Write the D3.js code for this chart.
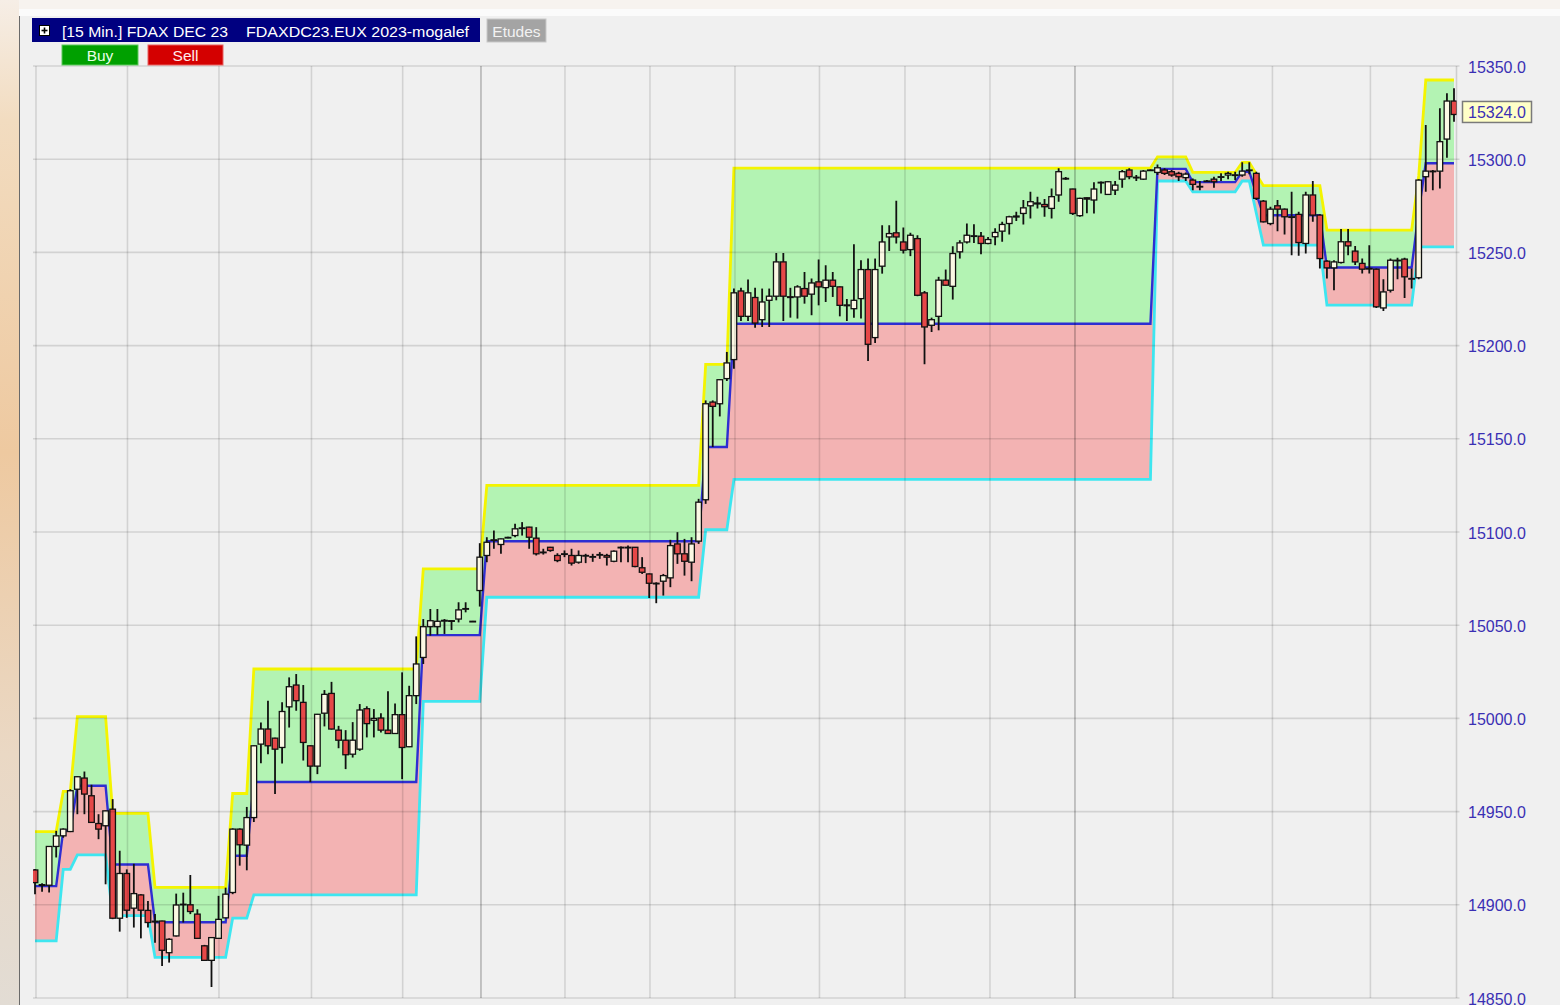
<!DOCTYPE html>
<html><head><meta charset="utf-8">
<script src="https://cdn.jsdelivr.net/npm/d3@7"></script>
<style>html,body{margin:0;padding:0;background:#f0f0f0;overflow:hidden}</style>
</head><body><svg id="c" width="1560" height="1005"></svg>
<script>
// ---------------- DATA ----------------
const barOpen = [14918.7,14910.8,14910.5,14931.3,14937.0,14939.3,14962.0,14968.0,14958.5,14943.6,
14942.4,14951.3,14892.8,14916.8,14898.2,14905.3,14897.0,14891.2,14891.3,14874.3,
14883.3,14900.0,14900.0,14895.0,14878.0,14870.2,14882.0,14893.0,14906.6,14940.6,
14932.0,14946.8,14986.2,14994.3,14989.4,14984.4,15006.2,15017.9,15008.6,14985.3,
14974.4,15002.8,15013.4,14993.7,14988.3,14980.8,14983.5,15005.2,14999.0,15000.2,
14993.7,14991.9,15002.0,14984.8,15012.2,15032.7,15049.2,15049.2,15052.2,15052.4,
15053.3,15058.7,15052.1,15068.6,15087.4,15095.6,15093.3,15096.9,15098.1,15102.0,
15102.6,15096.7,15089.0,15091.8,15087.4,15088.1,15087.4,15083.8,15087.2,15086.6,
15087.7,15087.4,15084.3,15091.6,15091.6,15091.8,15080.8,15077.5,15072.3,15073.6,
15075.4,15093.6,15088.3,15083.8,15095.1,15117.3,15169.7,15168.8,15182.3,15192.5,
15229.3,15215.7,15225.8,15213.9,15224.3,15226.5,15244.9,15226.2,15226.1,15230.6,
15227.6,15234.2,15231.1,15235.1,15231.5,15221.8,15219.8,15225.2,15240.8,15204.3,
15242.6,15258.3,15260.5,15255.6,15251.5,15257.4,15228.3,15210.9,15215.7,15235.1,
15231.8,15250.3,15255.6,15258.7,15258.7,15254.8,15258.4,15261.4,15265.5,15269.0,
15270.9,15275.0,15276.5,15275.7,15273.6,15280.8,15289.7,15284.0,15269.7,15279.3,
15278.1,15287.6,15281.1,15283.4,15289.3,15294.2,15290.3,15289.3,15294.2,15292.9,
15294.2,15293.3,15292.4,15290.1,15288.8,15285.4,15288.3,15289.3,15290.6,15291.5,
15291.6,15291.5,15294.2,15292.4,15277.5,15265.5,15275.0,15273.2,15269.1,15270.4,
15254.8,15280.8,15270.0,15245.3,15241.7,15244.6,15255.7,15250.7,15244.1,15241.4,
15241.0,15220.2,15229.7,15245.8,15246.4,15236.0,15236.4,15290.6,15293.6,15293.6,
15310.8,15331.2];
const barHigh = [14919.2,14911.5,14931.5,14939.7,14941.0,14962.0,14969.0,14971.5,14964.4,14948.6,
14950.6,14956.7,14929.0,14919.0,14922.0,14905.7,14902.0,14895.0,14891.5,14882.0,
14906.0,14906.5,14916.0,14897.6,14878.5,14882.6,14904.8,14909.2,14941.0,14941.0,
14952.5,14985.5,14997.8,15009.5,14989.6,15008.6,15022.0,15023.8,15017.9,14985.5,
15002.4,15015.2,15019.6,14996.0,14993.7,14998.0,15007.7,15006.5,15005.0,15002.7,
15014.5,15008.0,15024.7,15017.5,15044.0,15053.3,15058.7,15058.7,15053.3,15052.6,
15062.3,15062.3,15052.3,15094.0,15097.2,15100.8,15096.5,15097.4,15104.4,15105.3,
15102.8,15102.6,15091.0,15092.0,15088.6,15090.1,15091.0,15090.1,15088.3,15088.3,
15089.2,15088.3,15090.1,15092.2,15092.7,15092.0,15086.5,15077.7,15073.0,15077.5,
15095.8,15099.9,15096.3,15097.2,15117.8,15170.6,15170.6,15181.9,15196.6,15230.6,
15231.1,15235.4,15231.1,15230.6,15230.6,15249.7,15249.7,15231.0,15232.4,15239.5,
15236.0,15246.2,15243.1,15239.5,15231.7,15225.0,15254.4,15245.8,15246.7,15246.7,
15264.6,15264.6,15277.7,15263.4,15260.5,15259.2,15229.3,15215.0,15236.9,15240.8,
15253.3,15256.5,15265.5,15265.1,15261.0,15258.3,15262.9,15266.4,15269.7,15271.8,
15278.1,15282.5,15279.9,15278.6,15284.3,15295.1,15290.5,15284.2,15279.3,15279.4,
15287.6,15288.0,15288.3,15288.3,15294.2,15295.1,15291.5,15294.2,15294.5,15297.2,
15295.1,15294.2,15293.3,15292.9,15289.7,15288.3,15288.8,15290.6,15292.4,15293.3,
15293.3,15298.3,15298.3,15293.3,15278.1,15274.5,15278.1,15273.6,15282.5,15271.8,
15282.5,15288.3,15270.4,15245.8,15245.8,15262.5,15262.5,15253.5,15246.7,15253.9,
15241.4,15235.6,15246.7,15247.1,15247.1,15241.4,15289.3,15318.3,15294.2,15327.3,
15335.4,15338.0];
const barLow = [14905.7,14907.0,14906.6,14925.4,14936.0,14939.0,14948.6,14948.6,14944.0,14935.2,
14911.0,14892.3,14885.6,14893.0,14887.8,14882.0,14887.8,14879.7,14867.2,14869.0,
14883.0,14890.5,14895.0,14882.0,14870.0,14855.9,14882.0,14892.8,14905.7,14921.0,
14918.5,14944.4,14976.0,14980.8,14959.4,14975.8,14995.1,15004.1,14977.4,14965.8,
14970.1,14995.7,14994.0,14984.0,14972.8,14979.0,14982.6,14989.8,14989.8,14992.5,
14991.6,14991.7,14967.4,14984.6,15007.7,15029.2,15044.4,15044.9,15045.3,15047.4,
15051.5,15056.9,15051.9,15060.0,15083.8,15091.0,15088.3,15096.6,15097.2,15098.1,
15091.0,15087.4,15087.9,15089.4,15083.8,15086.5,15082.0,15083.0,15083.3,15084.0,
15085.6,15082.0,15083.8,15083.8,15083.8,15081.1,15077.5,15064.6,15061.8,15065.9,
15070.4,15082.9,15076.6,15073.6,15093.6,15115.1,15145.6,15162.0,15181.0,15187.6,
15213.2,15213.2,15209.6,15210.0,15210.0,15224.3,15213.2,15215.0,15214.5,15222.5,
15216.3,15221.6,15223.4,15226.1,15215.7,15213.2,15215.0,15214.5,15191.7,15201.4,
15238.6,15250.8,15254.8,15249.4,15248.0,15226.5,15190.0,15207.3,15208.2,15232.2,
15224.7,15246.7,15254.8,15255.1,15249.0,15254.4,15253.9,15255.7,15259.6,15266.8,
15265.0,15268.2,15273.6,15269.1,15268.2,15277.2,15289.0,15270.0,15269.1,15271.0,
15270.9,15281.6,15280.8,15280.8,15284.7,15289.3,15288.3,15288.8,15293.8,15291.5,
15291.5,15290.6,15288.3,15288.3,15283.4,15283.4,15287.8,15284.7,15288.3,15289.3,
15288.8,15290.6,15291.9,15278.1,15266.1,15264.6,15261.4,15259.6,15248.5,15248.2,
15249.4,15266.4,15241.4,15236.0,15229.7,15244.1,15248.5,15243.2,15238.7,15238.7,
15220.2,15218.5,15228.5,15235.6,15225.6,15230.6,15235.6,15282.5,15283.4,15284.3,
15300.8,15320.1];
const barClose = [14911.9,14910.4,14931.3,14937.0,14940.6,14961.2,14968.7,14959.4,14944.2,14940.6,
14950.4,14892.8,14916.8,14897.1,14906.0,14897.1,14890.5,14890.8,14875.6,14881.5,
14899.9,14900.3,14896.4,14882.0,14870.2,14882.4,14892.2,14905.7,14940.6,14932.2,
14946.8,14985.3,14994.3,14985.3,14983.5,15003.7,15017.0,15009.5,14987.1,14974.4,
15002.2,15012.9,14994.3,14988.3,14980.5,14988.3,15004.5,14997.2,15000.0,14993.7,
14991.9,15002.0,14984.4,15012.2,15029.2,15049.2,15052.4,15052.1,15052.6,15052.2,
15058.2,15058.9,15052.1,15086.5,15094.5,15095.8,15096.3,15097.1,15101.7,15102.2,
15097.2,15088.3,15089.2,15090.1,15084.7,15088.3,15083.3,15087.4,15087.4,15086.8,
15087.9,15086.5,15089.7,15091.8,15091.8,15081.5,15078.4,15072.5,15072.5,15076.6,
15092.7,15088.3,15084.3,15093.6,15116.0,15168.8,15167.4,15181.7,15190.7,15228.3,
15215.7,15228.3,15212.1,15223.4,15226.5,15244.9,15226.5,15225.8,15231.5,15226.5,
15233.6,15231.5,15235.1,15231.8,15221.6,15221.4,15224.3,15240.8,15200.7,15240.8,
15255.6,15260.1,15258.3,15251.2,15259.2,15227.0,15210.0,15213.9,15235.1,15232.4,
15249.4,15255.1,15259.2,15258.9,15254.8,15256.9,15260.7,15265.0,15269.1,15269.5,
15273.9,15277.2,15276.0,15274.5,15279.9,15293.3,15289.7,15270.9,15279.0,15278.6,
15284.0,15287.4,15287.9,15286.1,15293.3,15290.6,15290.1,15293.6,15294.2,15295.4,
15292.4,15291.5,15290.6,15292.0,15286.5,15285.2,15288.3,15287.9,15290.6,15292.4,
15291.5,15293.6,15294.2,15279.0,15266.4,15273.2,15273.2,15269.1,15269.1,15255.3,
15280.8,15270.0,15246.7,15241.7,15244.9,15255.7,15253.5,15244.9,15241.0,15241.4,
15220.8,15228.8,15245.8,15245.8,15236.9,15236.0,15288.8,15293.6,15293.6,15309.4,
15331.2,15324.0];

// indicator bands, constant over runs of bars [bandFrom..bandTo]
const bandFrom  = [0,4,6,11,17,28,31,55,64,95,99,159,164,171,173,174,183,196,197];
const bandTo    = [3,5,10,16,27,30,54,63,94,98,158,163,170,172,173,182,195,196,201];
const bandUpper = [14939.3,14960.8,15000.9,14949.0,14909.4,14959.7,15026.5,15080.2,15125.0,15189.9,15295.2,15301.3,15292.9,15298.3,15292.0,15285.8,15262.0,15291.0,15342.5];
const bandMid   = [14910.0,14939.9,14963.9,14921.6,14890.6,14926.3,14965.9,15044.7,15095.0,15145.6,15211.7,15294.8,15287.7,15293.3,15281.5,15269.9,15241.9,15272.0,15297.8];
const bandLower = [14880.6,14919.0,14926.8,14894.2,14871.8,14892.8,14905.3,15009.1,15065.0,15101.2,15128.2,15288.3,15282.5,15288.3,15271.0,15253.9,15221.7,15253.0,15253.0];

const yTicks = [14850,14900,14950,15000,15050,15100,15150,15200,15250,15300,15350];
const xGridBars = [0.14,13.1,26.06,39.16,52.08,75.07,87.11,99.15,111.12,123.23,135.27,161.19,175.28,189.16];
const daySepBars = [63.17,147.31];
const lastPrice = 15324.0;
const titleParts = ["[15 Min.] FDAX DEC 23","FDAXDC23.EUX 2023-mogalef"];

// ---------------- DRAW ----------------
const svg = d3.select('#c');
const nBars = barClose.length;
const x = d3.scaleLinear().domain([0, nBars-1]).range([35, 1454]);
const y = d3.scaleLinear().domain([14850, 15350]).range([998, 66]);
const plotL = 33, plotR = 1456.5, plotT = 66, plotB = 998;

const defs = svg.append('defs');
const lg = defs.append('linearGradient').attr('id','lg').attr('x1',0).attr('x2',0).attr('y1',0).attr('y2',1);
[[0,'#f6eee6'],[0.12,'#f2dcc0'],[0.45,'#eec9a0'],[0.75,'#ead8c4'],[1,'#e2dcd4']].forEach(s=>lg.append('stop').attr('offset',s[0]).attr('stop-color',s[1]));
defs.append('clipPath').attr('id','plotclip').append('rect')
  .attr('x',plotL).attr('y',plotT-4).attr('width',plotR-plotL).attr('height',plotB-plotT+8);

svg.append('rect').attr('width',1560).attr('height',1005).attr('fill','#f0f0f0');
svg.append('rect').attr('x',0).attr('y',0).attr('width',1560).attr('height',16).attr('fill','#f7f3ef');
svg.append('rect').attr('x',0).attr('y',9).attr('width',1560).attr('height',7).attr('fill','#fbfbfb');
svg.append('rect').attr('x',0).attr('y',0).attr('width',19).attr('height',1005).attr('fill','url(#lg)');
svg.append('line').attr('x1',19.5).attr('x2',19.5).attr('y1',16).attr('y2',1005).attr('stroke','#6a6a6a').attr('stroke-width',1);

// expand runs to per-bar series
const upper = [], mid = [], lower = [];
bandFrom.forEach((f,k)=>{ for(let i=f;i<=bandTo[k];i++){ upper[i]=bandUpper[k]; mid[i]=bandMid[k]; lower[i]=bandLower[k]; } });
const idx = d3.range(nBars);

const plot = svg.append('g').attr('clip-path','url(#plotclip)');
plot.append('path').datum(idx)
  .attr('d', d3.area().x(i=>x(i)).y0(i=>y(mid[i])).y1(i=>y(upper[i])))
  .attr('fill','#b3f3b3');
plot.append('path').datum(idx)
  .attr('d', d3.area().x(i=>x(i)).y0(i=>y(lower[i])).y1(i=>y(mid[i])))
  .attr('fill','#f3b3b3');

// grid
const grid = svg.append('g');
grid.selectAll('line.h').data(yTicks).join('line')
  .attr('x1',plotL).attr('x2',plotR+3).attr('y1',d=>y(d)).attr('y2',d=>y(d))
  .attr('stroke','rgba(0,0,0,0.12)').attr('stroke-width',1.6);
grid.selectAll('line.v').data(xGridBars).join('line')
  .attr('x1',d=>x(d)).attr('x2',d=>x(d)).attr('y1',plotT).attr('y2',plotB)
  .attr('stroke','rgba(0,0,0,0.12)').attr('stroke-width',1.6);
grid.selectAll('line.d').data(daySepBars).join('line')
  .attr('x1',d=>x(d)).attr('x2',d=>x(d)).attr('y1',plotT).attr('y2',plotB)
  .attr('stroke','rgba(0,0,0,0.22)').attr('stroke-width',1.8);
grid.append('line').attr('x1',plotR).attr('x2',plotR).attr('y1',plotT).attr('y2',plotB)
  .attr('stroke','rgba(0,0,0,0.14)').attr('stroke-width',1.6);

// band lines
const lineOf = arr => d3.line().x(i=>x(i)).y(i=>y(arr[i]));
plot.append('path').datum(idx).attr('d',lineOf(lower)).attr('fill','none').attr('stroke','#3ee6f0').attr('stroke-width',2.8);
plot.append('path').datum(idx).attr('d',lineOf(mid)).attr('fill','none').attr('stroke','#2e2ed2').attr('stroke-width',2.4);
plot.append('path').datum(idx).attr('d',lineOf(upper)).attr('fill','none').attr('stroke','#f4f400').attr('stroke-width',2.8);

// candles
const cg = plot.append('g');
const cs = cg.selectAll('g').data(idx).join('g');
cs.append('line').attr('x1',i=>x(i)).attr('x2',i=>x(i))
  .attr('y1',i=>y(barHigh[i])).attr('y2',i=>y(barLow[i]))
  .attr('stroke','#111').attr('stroke-width',1.8);
cs.append('rect')
  .attr('x',i=>x(i)-2.8).attr('width',5.6)
  .attr('y',i=>y(Math.max(barOpen[i],barClose[i])))
  .attr('height',i=>Math.max(0.6, Math.abs(y(barOpen[i])-y(barClose[i]))))
  .attr('fill',i=>barClose[i]>=barOpen[i]?'#fbf8e4':'#e64848')
  .attr('stroke','#111').attr('stroke-width',1.3);

// y axis labels
const lab = svg.append('g').attr('font-family','"Liberation Sans", Arial, sans-serif').attr('font-size',16).attr('fill','#3a2fb4');
lab.selectAll('text').data(yTicks).join('text')
  .attr('x',1468).attr('y',d=>y(d)+1).attr('dominant-baseline','central').text(d=>d.toFixed(1));

// last price box
const ly = y(lastPrice);
svg.append('rect').attr('x',1462.5).attr('y',ly-13).attr('width',69).attr('height',21)
  .attr('fill','#ffffc8').attr('stroke','#7a7a7a').attr('stroke-width',1.5);
svg.append('text').attr('x',1468).attr('y',ly-2).attr('dominant-baseline','central')
  .attr('font-family','"Liberation Sans", Arial, sans-serif').attr('font-size',16).attr('fill','#3a2fb4')
  .text(lastPrice.toFixed(1));

// header
const hdr = svg.append('g').attr('font-family','"Liberation Sans", Arial, sans-serif').attr('font-size',15.5);
hdr.append('rect').attr('x',32).attr('y',18).attr('width',448).attr('height',24).attr('fill','#000080');
hdr.append('rect').attr('x',39.5).attr('y',25.5).attr('width',10).attr('height',10).attr('fill','#fff').attr('stroke','#000').attr('stroke-width',1);
hdr.append('line').attr('x1',41.5).attr('x2',47.5).attr('y1',30.5).attr('y2',30.5).attr('stroke','#000').attr('stroke-width',1.6);
hdr.append('line').attr('x1',44.5).attr('x2',44.5).attr('y1',27.5).attr('y2',33.5).attr('stroke','#000').attr('stroke-width',1.6);
hdr.append('text').attr('x',62).attr('y',31).attr('dominant-baseline','central').attr('fill','#fff')
  .attr('textLength',166).attr('lengthAdjust','spacingAndGlyphs').text(titleParts[0]);
hdr.append('text').attr('x',246).attr('y',31).attr('dominant-baseline','central').attr('fill','#fff')
  .attr('textLength',223).attr('lengthAdjust','spacingAndGlyphs').text(titleParts[1]);
hdr.append('rect').attr('x',487).attr('y',19).attr('width',59).attr('height',23).attr('fill','#a4a4a4').attr('stroke','#c8c8c8');
hdr.append('text').attr('x',516.5).attr('y',31).attr('text-anchor','middle').attr('dominant-baseline','central').attr('fill','#f2f2f2').text('Etudes');
hdr.append('rect').attr('x',62).attr('y',45).attr('width',76).attr('height',20).attr('fill','#00a000').attr('stroke','#5cc85c').attr('stroke-width',1);
hdr.append('text').attr('x',100).attr('y',55.5).attr('text-anchor','middle').attr('dominant-baseline','central').attr('fill','#e8ffe8').text('Buy');
hdr.append('rect').attr('x',148).attr('y',45).attr('width',75).attr('height',20).attr('fill','#d40000').attr('stroke','#e86060').attr('stroke-width',1);
hdr.append('text').attr('x',185.5).attr('y',55.5).attr('text-anchor','middle').attr('dominant-baseline','central').attr('fill','#ffecec').text('Sell');
</script></body></html>
